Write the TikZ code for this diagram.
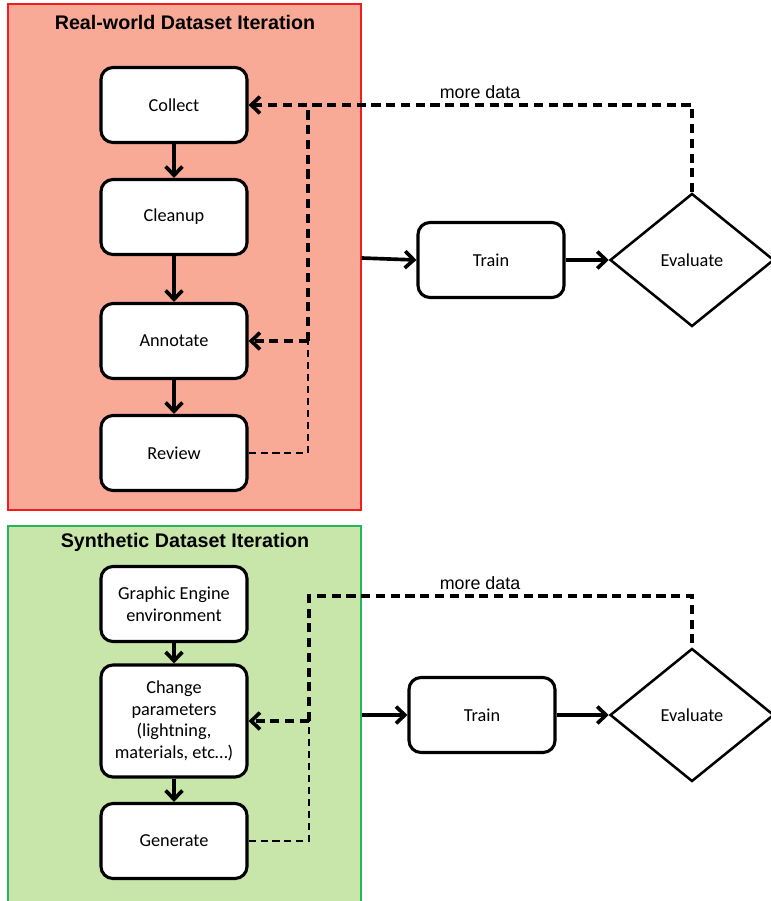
\documentclass[tikz,border=0pt]{standalone}
\usepackage{fontspec}
\setmainfont{Carlito}
\newfontfamily\arialfont{Liberation Sans}
\usetikzlibrary{shapes.geometric,arrows.meta}

\definecolor{realfill}{RGB}{249,170,150}
\definecolor{realline}{RGB}{240,30,30}
\definecolor{synfill}{RGB}{200,229,170}
\definecolor{synline}{RGB}{40,180,90}

\begin{document}
\begin{tikzpicture}[x=0.025cm,y=-0.025cm,
  >={Straight Barb[length=2.2mm,width=4.2mm]},
  frame/.style={draw,line width=0.9pt,minimum width=8.825cm,inner sep=0pt},
  title/.style={font=\arialfont\fontsize{14}{17}\selectfont\bfseries},
  stepbox/.style={draw,fill=white,line width=2.2pt,rounded corners=0.3cm,
    minimum width=3.65cm,minimum height=1.875cm,align=center,
    font=\fontsize{13}{15.5}\selectfont},
  evalbox/.style={draw,fill=white,diamond,line width=1.8pt,inner sep=0pt,
    minimum width=4.1cm,minimum height=3.325cm,
    font=\fontsize{13}{15.5}\selectfont},
  flow/.style={->,line width=2.6pt},
  fb/.style={line width=2.6pt,dash pattern=on 6.5pt off 4pt},
  fbthin/.style={line width=2pt,dash pattern=on 5pt off 3.5pt},
  note/.style={font=\arialfont\fontsize{12.7}{15}\selectfont}]

\useasboundingbox (0,0) rectangle (770,901);

%------------------------
% Real-world dataset iteration
%------------------------
\node[frame,fill=realfill,draw=realline,minimum height=12.65cm] (realbox) at (184.5,257) {};
\node[title] (realtitle) at (185,22) {Real-world Dataset Iteration};

\node[stepbox] (collect)  at (174,105) {Collect};
\node[stepbox] (cleanup)  at (174,217) {Cleanup};
\node[stepbox] (annotate) at (174,341) {Annotate};
\node[stepbox] (review)   at (174,453) {Review};

\draw[flow] (collect) -- (cleanup);
\draw[flow] (cleanup) -- (annotate);
\draw[flow] (annotate) -- (review);

\node[stepbox] (train1) at (491,260) {Train};
\node[evalbox] (eval1) at (692,260) {Evaluate};

\draw[flow] (realbox.east |- 0,258) -- (train1.west);
\draw[flow] (train1) -- (eval1);

% feedback loop
\coordinate (realbus) at (308,341);
\draw[fbthin] (review.east) -| (realbus);
\draw[fb,->] (realbus) -- (annotate.east);
\draw[fb] (realbus) -- (realbus |- collect);
\draw[fb,->] (eval1.north) |- (collect.east);
\node[note] (more1) at (480,92) {more data};

%------------------------
% Synthetic dataset iteration
%------------------------
\node[frame,fill=synfill,draw=synline,minimum height=9.5cm] (synbox) at (184.5,716) {};
\node[title] (syntitle) at (185,542) {Synthetic Dataset Iteration};

\node[stepbox] (engine)   at (174,604) {Graphic Engine\\environment};
\node[stepbox,minimum height=2.8cm] (change) at (174,721)
  {Change\\parameters\\(lightning,\\materials, etc…)};
\node[stepbox] (generate) at (174,841) {Generate};

\draw[flow] (engine) -- (change);
\draw[flow] (change) -- (generate);

\node[stepbox] (train2) at (482,715) {Train};
\node[evalbox] (eval2) at (692,715) {Evaluate};

\draw[flow] (synbox.east |- 0,715) -- (train2.west);
\draw[flow] (train2) -- (eval2);

% feedback loop
\coordinate (synbus) at (309,721);
\coordinate (syntop) at (309,596);
\draw[fbthin] (generate.east) -| (synbus);
\draw[fb,->] (synbus) -- (change.east);
\draw[fb] (synbus) -- (syntop) -| (eval2.north);
\node[note] (more2) at (480,583) {more data};

\end{tikzpicture}
\end{document}
